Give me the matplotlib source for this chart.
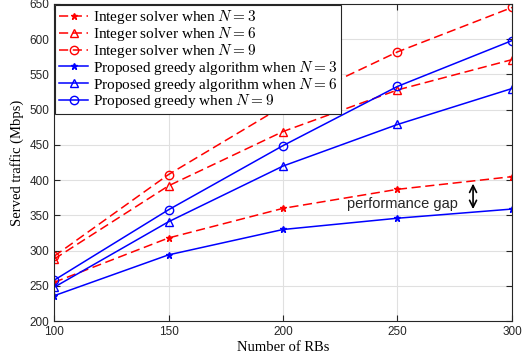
import matplotlib.pyplot as plt
import numpy as np

plt.rcParams['mathtext.fontset'] = 'cm'

rbs = [100, 150, 200, 250, 300]
int_n3 = [255, 318, 360, 387, 405]
int_n6 = [288, 392, 469, 528, 571]
int_n9 = [292, 408, 505, 582, 645]
greedy_n3 = [236, 294, 330, 346, 359]
greedy_n6 = [248, 341, 420, 479, 530]
greedy_n9 = [258, 358, 449, 533, 598]

serif = 'Liberation Serif'
sans = 'Liberation Sans'

fig = plt.figure(figsize=(5.3, 3.6), dpi=100)
ax = fig.add_axes([0.102, 0.108, 0.864, 0.881])

dash = (6, 3)
ax.plot(rbs, int_n3, 'r--', dashes=dash, marker='*', ms=5, lw=1.1, label=r'Integer solver when $N=3$')
ax.plot(rbs, int_n6, 'r--', dashes=dash, marker='^', ms=6, mfc='none', lw=1.1, label=r'Integer solver when $N=6$')
ax.plot(rbs, int_n9, 'r--', dashes=dash, marker='o', ms=6, mfc='none', lw=1.1, label=r'Integer solver when $N=9$')
ax.plot(rbs, greedy_n3, 'b-', marker='*', ms=5, lw=1.1, label=r'Proposed greedy algorithm when $N=3$')
ax.plot(rbs, greedy_n6, 'b-', marker='^', ms=6, mfc='none', lw=1.1, label=r'Proposed greedy algorithm when $N=6$')
ax.plot(rbs, greedy_n9, 'b-', marker='o', ms=6, mfc='none', lw=1.1, label=r'Proposed greedy when $N=9$')

ax.set_xlim(100, 300)
ax.set_ylim(200, 650)
ax.set_xticks(rbs)
ax.set_yticks(np.arange(200, 651, 50))
ax.grid(True, color='#e0e0e0', lw=0.8)
ax.set_axisbelow(True)
ax.tick_params(direction='in', top=True, right=True, labelsize=8.5, colors='#262626', length=4)
for lab in ax.get_xticklabels() + ax.get_yticklabels():
    lab.set_fontfamily(sans)
for s in ax.spines.values():
    s.set_color('#262626')

ax.set_xlabel('Number of RBs', family=serif, fontsize=10.5, labelpad=2)
ax.set_ylabel('Served traffic (Mbps)', family=serif, fontsize=10.5)

ax.annotate('', xy=(283, 355), xytext=(283, 399),
            arrowprops=dict(arrowstyle='<->,head_length=0.5,head_width=0.25', color='black', lw=1.2))
ax.text(252, 366, 'performance gap', family=sans, fontsize=10.5, ha='center', va='center', color='#262626')

leg = ax.legend(loc='upper left', bbox_to_anchor=(0.003, 0.998), prop={'family': serif, 'size': 11},
                fancybox=False, edgecolor='#262626', framealpha=1, borderaxespad=0, handlelength=1.9,
                labelspacing=-0.08, borderpad=0.25, handletextpad=0.3)
leg.get_frame().set_linewidth(0.8)

plt.savefig('out.png', dpi=100)
